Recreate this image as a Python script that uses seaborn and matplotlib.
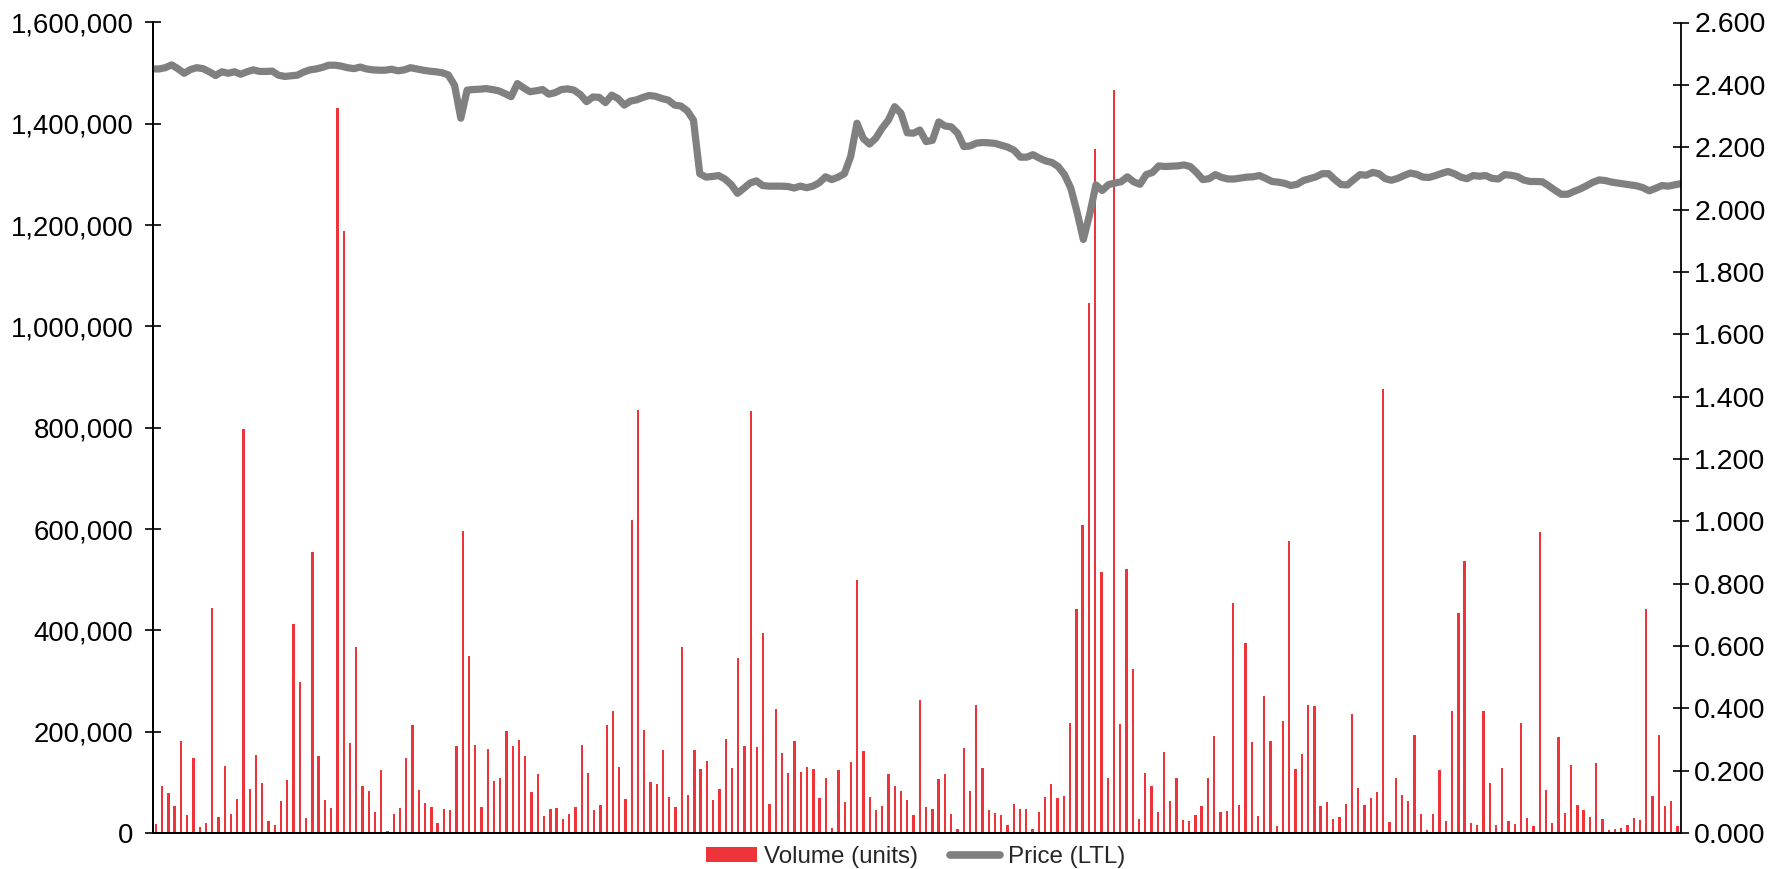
import numpy as np
import pandas as pd
import matplotlib
matplotlib.use("Agg")
import matplotlib.pyplot as plt
from matplotlib.patches import Patch
from matplotlib.lines import Line2D
from matplotlib.ticker import FuncFormatter, MultipleLocator
import seaborn as sns

# ---------------- data ----------------
volume = [
    18400, 92000, 79600, 53000, 181000, 35000, 149000, 12000, 19000, 444000,
    31000, 132000, 37500, 68000, 797000, 87500, 153000, 99000, 24000, 15000,
    64000, 105000, 412600, 299000, 30000, 555000, 152000, 66000, 50000, 1432000,
    1188000, 178000, 367000, 93000, 82000, 41000, 124000, 4000, 38000, 49000,
    148000, 213000, 85000, 59000, 51000, 20000, 47000, 45000, 171000, 596000,
    349000, 174000, 52000, 166000, 103000, 109000, 201000, 171000, 184000, 152000,
    80000, 117000, 34000, 48000, 49000, 27000, 37500, 52000, 174000, 118000,
    45000, 55000, 213000, 240000, 130000, 68000, 618000, 836000, 203000, 101000,
    96000, 164000, 71000, 52000, 367000, 76000, 164000, 127000, 143000, 66000,
    87000, 185000, 129000, 345000, 172000, 834000, 170000, 394000, 57000, 244000,
    157000, 119000, 182000, 121000, 130000, 126000, 70000, 109000, 10500, 125000,
    60500, 139500, 500000, 162000, 71000, 45000, 53000, 117000, 93000, 82000,
    66000, 35500, 262500, 52000, 47000, 107000, 116000, 37500, 8000, 168000,
    82000, 253000, 129000, 45000, 39500, 36000, 16000, 57000, 47000, 47000,
    8000, 42000, 72000, 97000, 69000, 73000, 216500, 442000, 609000, 1046000,
    1350000, 516000, 108500, 1466000, 216000, 521000, 324000, 28000, 119000, 93000,
    41000, 159000, 64000, 108000, 26000, 24000, 35500, 53000, 108500, 192000,
    41500, 44000, 454000, 56000, 376000, 180000, 33000, 271000, 181000, 14000,
    222000, 576000, 126000, 156000, 253000, 250000, 54000, 62000, 27000, 31600,
    57000, 235000, 89500, 55000, 69000, 81000, 876000, 22000, 108000, 76000,
    63000, 194000, 37500, 6600, 37000, 124000, 24000, 241500, 435000, 536000,
    19000, 15000, 241500, 99000, 16000, 129000, 23000, 18000, 216500, 30000,
    13000, 594000, 85000, 20000, 189500, 40000, 133600, 56000, 46000, 31600,
    138000, 28000, 6000, 8500, 9000, 16000, 30000, 26000, 442000, 74000,
    194000, 53000, 63000, 14500,
]

price = [
    2.451, 2.451, 2.455, 2.464, 2.452, 2.437, 2.449, 2.455, 2.452, 2.442,
    2.430, 2.442, 2.437, 2.442, 2.434, 2.442, 2.448, 2.443, 2.443, 2.444,
    2.431, 2.427, 2.429, 2.431, 2.441, 2.448, 2.451, 2.456, 2.463, 2.463,
    2.460, 2.455, 2.452, 2.457, 2.451, 2.448, 2.447, 2.447, 2.450, 2.445,
    2.448, 2.455, 2.451, 2.447, 2.444, 2.442, 2.439, 2.432, 2.399, 2.293,
    2.383, 2.385, 2.386, 2.388, 2.385, 2.381, 2.372, 2.362, 2.404, 2.390,
    2.378, 2.381, 2.385, 2.370, 2.375, 2.385, 2.387, 2.383, 2.369, 2.346,
    2.361, 2.360, 2.343, 2.367, 2.356, 2.335, 2.348, 2.352, 2.360, 2.366,
    2.363, 2.356, 2.351, 2.335, 2.332, 2.317, 2.287, 2.115, 2.104, 2.106,
    2.109, 2.098, 2.080, 2.052, 2.068, 2.085, 2.092, 2.077, 2.075, 2.075,
    2.075, 2.074, 2.069, 2.075, 2.070, 2.075, 2.086, 2.105, 2.096, 2.104,
    2.115, 2.170, 2.277, 2.228, 2.210, 2.229, 2.261, 2.287, 2.330, 2.309,
    2.246, 2.245, 2.255, 2.218, 2.222, 2.281, 2.268, 2.265, 2.245, 2.202,
    2.204, 2.213, 2.215, 2.214, 2.212, 2.206, 2.200, 2.190, 2.168, 2.168,
    2.176, 2.165, 2.156, 2.151, 2.138, 2.112, 2.069, 1.992, 1.904, 1.984,
    2.079, 2.061, 2.080, 2.085, 2.089, 2.105, 2.089, 2.081, 2.112, 2.119,
    2.140, 2.138, 2.139, 2.140, 2.143, 2.138, 2.119, 2.096, 2.099, 2.112,
    2.103, 2.098, 2.098, 2.101, 2.104, 2.105, 2.109, 2.100, 2.090, 2.088,
    2.084, 2.077, 2.081, 2.093, 2.099, 2.105, 2.115, 2.115, 2.096, 2.080,
    2.079, 2.096, 2.112, 2.110, 2.119, 2.115, 2.099, 2.094, 2.100, 2.109,
    2.117, 2.113, 2.104, 2.103, 2.109, 2.116, 2.122, 2.115, 2.104, 2.099,
    2.109, 2.107, 2.109, 2.100, 2.098, 2.112, 2.110, 2.106, 2.095, 2.090,
    2.090, 2.089, 2.076, 2.062, 2.049, 2.049, 2.058, 2.066, 2.076, 2.087,
    2.095, 2.093, 2.088, 2.085, 2.082, 2.079, 2.076, 2.070, 2.060, 2.068,
    2.077, 2.075, 2.079, 2.083,
]

series_labels = ["Volume (units)", "Price (LTL)"]

# ---------------- style ----------------
sns.set_style("white")
plt.rcParams["font.family"] = ["Liberation Sans", "DejaVu Sans"]

RED = "#EE3339"
GREY = "#808080"

W, H = 1775, 869
fig = plt.figure(figsize=(W / 100, H / 100), dpi=100)
ax = fig.add_axes([152.7 / W, 36 / H, (1680.7 - 152.7) / W, 810.5 / H])

n = len(volume)
df = pd.DataFrame({"day": np.arange(n), "volume": volume})
sns.barplot(data=df, x="day", y="volume", color=RED, saturation=1,
            width=0.37, ax=ax, linewidth=0)
ax.set_xlim(-0.5, n - 0.5)
ax.set_ylim(0, 1600000)
ax.set_xticks([])
ax.set_xlabel("")
ax.set_ylabel("")
ax.yaxis.set_major_locator(MultipleLocator(200000))
ax.yaxis.set_major_formatter(FuncFormatter(lambda v, p: f"{int(round(v)):,}"))

ax2 = ax.twinx()
pdf = pd.DataFrame({"x": np.linspace(-0.5, n - 0.5, len(price)), "price": price})
sns.lineplot(data=pdf, x="x", y="price", ax=ax2, color=GREY, linewidth=5.2,
             solid_joinstyle="round", solid_capstyle="round")
ax2.set_xlim(-0.5, n - 0.5)
ax2.set_ylim(0, 2.6)
ax2.yaxis.set_major_locator(MultipleLocator(0.2))
ax2.yaxis.set_major_formatter(FuncFormatter(lambda v, p: f"{v:.3f}"))
ax2.set_ylabel("")
ax2.set_xlabel("")

for a in (ax, ax2):
    for s in a.spines.values():
        s.set_color("black")
        s.set_linewidth(1.3)
    a.spines["top"].set_visible(False)
ax.spines["right"].set_visible(False)

ax.tick_params(axis="y", direction="inout", length=11.5, width=1.2,
               colors="black", labelsize=19.8, pad=8, left=True)
ax2.tick_params(axis="y", direction="inout", length=11.5, width=1.2,
                colors="black", labelsize=20.5, pad=4, right=True)

handles = [
    Patch(facecolor=RED, edgecolor="none"),
    Line2D([0], [0], color=GREY, linewidth=5.5, solid_capstyle="round"),
]
fig.legend(handles, series_labels, loc="center",
           bbox_to_anchor=(915.5 / W, 1 - 857 / H), ncol=2, frameon=False,
           fontsize=17.4, handlelength=2.1, handleheight=0.55,
           handletextpad=0.3, columnspacing=1.3, borderaxespad=0)

fig.savefig("out.png", dpi=100, facecolor="white")
